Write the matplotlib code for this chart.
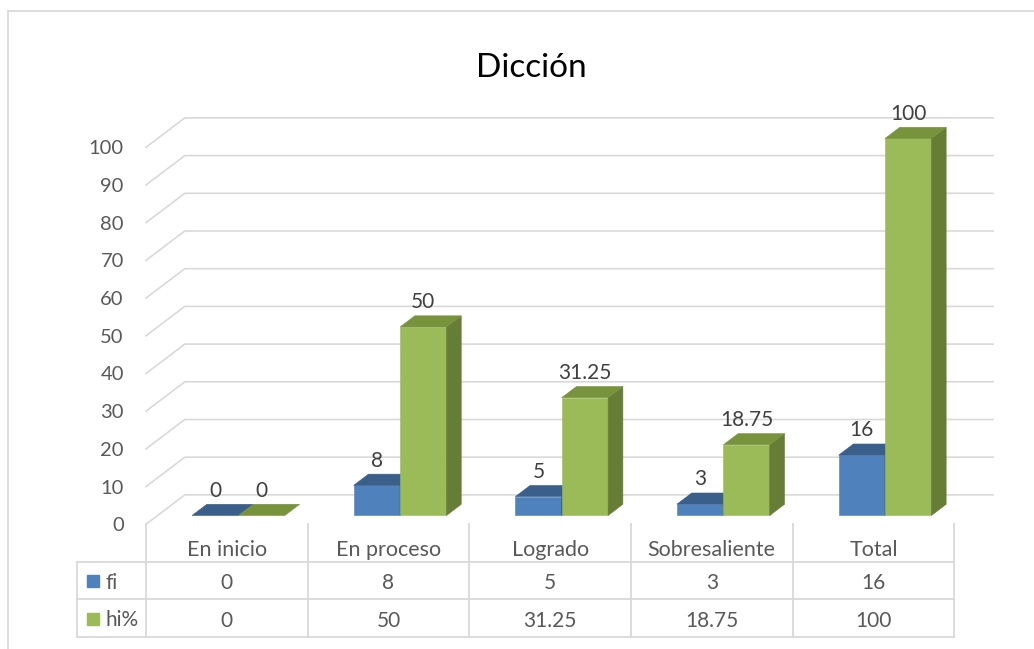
import matplotlib
matplotlib.use("Agg")
import matplotlib.pyplot as plt
from matplotlib.patches import Polygon
from matplotlib.lines import Line2D

plt.rcParams['font.family'] = ['Lato', 'DejaVu Sans']

# data
categorias = ["En inicio", "En proceso", "Logrado", "Sobresaliente", "Total"]
fi = [0, 8, 5, 3, 16]
hi = [0, 50, 31.25, 18.75, 100]
fi_txt = ["0", "8", "5", "3", "16"]
hi_txt = ["0", "50", "31.25", "18.75", "100"]
series = ["fi", "hi%"]
yticks = list(range(0, 101, 10))

W, H = 1034, 649
fig = plt.figure(figsize=(W / 100, H / 100), dpi=100)

# oblique 3d geometry, in data units
DX, DY = 0.24, 7.8          # floor depth
X0, X1 = -0.5, 4.5 + DX
Y0, Y1 = 0, 108
left_px, right_px, bottom_px, unit_px = 146, 993, 524.3, 3.77

ax = fig.add_axes([left_px / W, 1 - bottom_px / H,
                   (right_px - left_px) / W, (Y1 - Y0) * unit_px / H])
ax.set_xlim(X0, X1)
ax.set_ylim(Y0, Y1)
for s in ax.spines.values():
    s.set_visible(False)
ax.set_xticks([])
ax.set_yticks(yticks)
ax.tick_params(axis='y', length=0, pad=16, labelsize=14.5, labelcolor='#595959')

grid_c = '#d9d9d9'
for v in yticks:
    ax.plot([X0, X0 + DX, X1], [v, v + DY, v + DY], color=grid_c, lw=1.2,
            zorder=0, clip_on=False)

bw = 0.287
f0, f1 = 0.30, 0.68


def bar3d(x_left, val, front, top, side):
    x0 = x_left + f0 * DX
    y0 = f0 * DY
    ddx = (f1 - f0) * DX
    ddy = (f1 - f0) * DY
    x1 = x0 + bw
    yt = y0 + val
    if val > 0:
        ax.add_patch(Polygon([(x0, y0), (x1, y0), (x1, yt), (x0, yt)],
                             facecolor=front, edgecolor=front, lw=0.4, zorder=2))
        ax.add_patch(Polygon([(x1, y0), (x1 + ddx, y0 + ddy), (x1 + ddx, yt + ddy), (x1, yt)],
                             facecolor=side, edgecolor=side, lw=0.4, zorder=2))
    ax.add_patch(Polygon([(x0, yt), (x1, yt), (x1 + ddx, yt + ddy), (x0 + ddx, yt + ddy)],
                         facecolor=top, edgecolor=top, lw=0.4, zorder=2))
    return x0 + bw / 2, yt + ddy


blue = ('#4f81bd', '#3a5f8b', '#36587f')
green = ('#9bbb59', '#77933c', '#657d34')

for i in range(len(categorias)):
    for j, (vals, txt, col) in enumerate([(fi, fi_txt, blue), (hi, hi_txt, green)]):
        cx, ytop = bar3d(i - bw + j * bw, vals[i], *col)
        ax.annotate(txt[i], (cx, ytop), xytext=(0, 5.5), textcoords='offset points',
                    ha='center', va='baseline', fontsize=15, color='#404040')

# data table
tab_bottom = 636.7
tab = fig.add_axes([left_px / W, 1 - tab_bottom / H,
                    (right_px - left_px) / W, (tab_bottom - bottom_px) / H])
tab.set_xlim(X0, X1)
tab.set_ylim(3, 0)
tab.axis('off')
XL = -0.5 - 69 / 161.6
for r in (1, 2, 3):
    tab.plot([XL, 4.5], [r, r], color=grid_c, lw=1.3, clip_on=False)
for k in range(len(categorias) + 1):
    tab.plot([k - 0.5, k - 0.5], [0, 3], color=grid_c, lw=1.3, clip_on=False)
tab.plot([XL, XL], [1, 3], color=grid_c, lw=1.3, clip_on=False)

for i, c in enumerate(categorias):
    tab.text(i, 0.84, c, ha='center', va='baseline', fontsize=15.5, color='#595959')
    tab.text(i, 1.72, fi_txt[i], ha='center', va='baseline', fontsize=15, color='#595959')
    tab.text(i, 2.73, hi_txt[i], ha='center', va='baseline', fontsize=15, color='#595959')

for r, (name, col) in enumerate(zip(series, (blue[0], green[0]))):
    tab.plot(-0.828, 1.52 + r, marker='s', ms=9, color=col, clip_on=False)
    tab.text(-0.75, 1.72 + r, name, ha='left', va='baseline', fontsize=15,
             color='#595959', clip_on=False)

fig.text(531.5 / W, 1 - 77.3 / H, "Dicción", ha='center', va='baseline',
         fontsize=24, color='#000000')

# chart border (left and top edges visible)
fig.add_artist(Line2D([8 / W, 8 / W], [0, 1 - 11 / H], color=grid_c, lw=1.3))
fig.add_artist(Line2D([8 / W, 1], [1 - 11 / H, 1 - 11 / H], color=grid_c, lw=1.3))

fig.savefig('out.png', dpi=100)
